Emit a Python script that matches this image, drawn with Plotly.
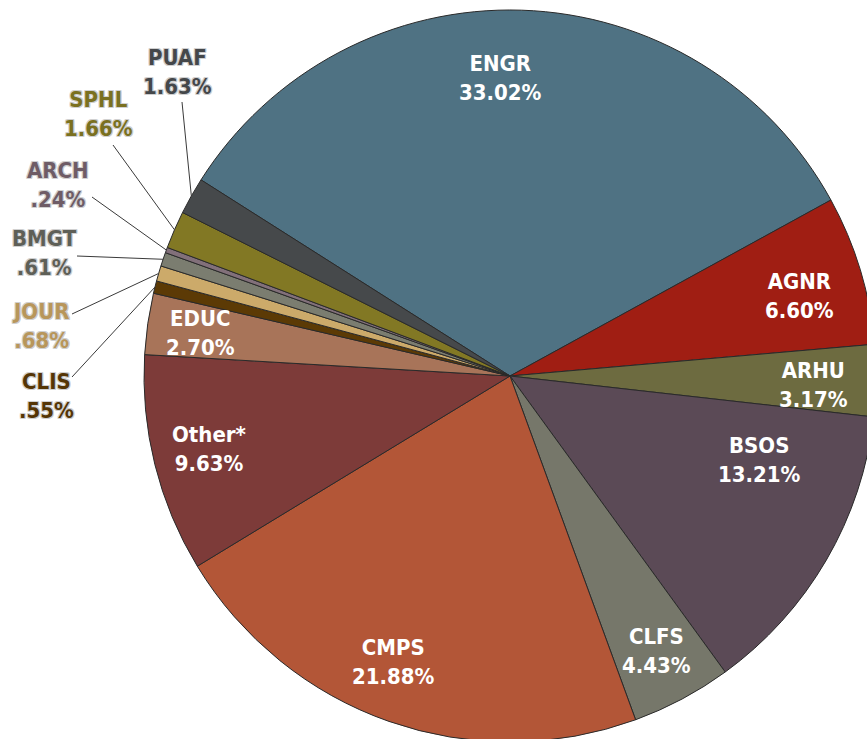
import math
import plotly.graph_objects as go

# ---- data ----
categories = ["ENGR", "AGNR", "ARHU", "BSOS", "CLFS", "CMPS", "Other*", "EDUC",
              "CLIS", "JOUR", "BMGT", "ARCH", "SPHL", "PUAF"]
shares = [33.02, 6.60, 3.17, 13.21, 4.43, 21.88, 9.63, 2.70,
          0.55, 0.68, 0.61, 0.24, 1.66, 1.63]
value_labels = ["33.02%", "6.60%", "3.17%", "13.21%", "4.43%", "21.88%", "9.63%", "2.70%",
                ".55%", ".68%", ".61%", ".24%", "1.66%", "1.63%"]

# ---- style ----
colors = ["#4F7283", "#A01E13", "#6D6B40", "#5B4A56", "#76776A", "#B35637", "#7D3B39", "#A87459",
          "#5C3A05", "#CCAA6A", "#7B7D70", "#82707A", "#827824", "#46494B"]
outside_text_colors = {"CLIS": "#553505", "JOUR": "#B8965A", "BMGT": "#5E5F57",
                       "ARCH": "#6E5C66", "SPHL": "#7A7020", "PUAF": "#44474A"}

W, H = 880, 745
CX, CY, R = 510, 376, 366
ROTATION = -57.6
FONT = "DejaVu Sans Condensed, DejaVu Sans, Arial"
FS = 22

# inside label placement: (radius fraction, angle offset in degrees)
inside_place = {"ENGR": (0.815, -3.7), "AGNR": (0.82, 1.4), "ARHU": (0.83, 1.0),
                "BSOS": (0.72, -11.6), "CLFS": (0.85, 0.0), "CMPS": (0.845, 2.9),
                "Other*": (0.845, 0.4), "EDUC": (0.855, -0.3)}
# outside label block centers (px) and leader-line start points (px)
outside_place = {"PUAF": ((177, 72), (182, 102)), "SPHL": ((98, 114), (113, 145)),
                 "ARCH": ((58, 185), (92, 197)), "BMGT": ((44, 253), (77, 256)),
                 "JOUR": ((41, 326), (72, 314)), "CLIS": ((46, 396), (72, 377))}

dom_x = [(CX - R) / W, (CX + R) / W]
dom_y = [(H - CY - R) / H, (H - CY + R) / H]

fig = go.Figure(go.Pie(
    labels=categories, values=shares, sort=False, direction="clockwise",
    rotation=ROTATION, textinfo="none", hoverinfo="label+percent",
    marker=dict(colors=colors, line=dict(color="#2a2a2a", width=1)),
    domain=dict(x=dom_x, y=dom_y), showlegend=False,
))

def px2paper(x, y):
    return x / W, 1 - y / H

total = sum(shares)
annotations, shapes = [], []
cum = 0.0
outline = "#d0d0d0"
shadow = ", ".join(f"{a}px {b}px 0 {outline}" for a in (-1, 0, 1) for b in (-1, 0, 1) if a or b)
for cat, v, lab in zip(categories, shares, value_labels):
    a0 = ROTATION + cum / total * 360
    cum += v
    a1 = ROTATION + cum / total * 360
    mid = (a0 + a1) / 2
    if cat in inside_place:
        f, off = inside_place[cat]
        ang = math.radians(mid + off)
        x = CX + f * R * math.sin(ang)
        y = CY - f * R * math.cos(ang)
        px, py = px2paper(x, y)
        annotations.append(dict(x=px, y=py, xref="paper", yref="paper", showarrow=False,
                                xanchor="center", yanchor="middle",
                                text=f"{cat}<br>{lab}", align="center",
                                font=dict(family=FONT, size=FS, color="white", weight="bold")))
    else:
        (lx, ly), (sx, sy) = outside_place[cat]
        px, py = px2paper(lx, ly)
        annotations.append(dict(x=px, y=py, xref="paper", yref="paper", showarrow=False,
                                xanchor="center", yanchor="middle",
                                text=f"{cat}<br>{lab}", align="center",
                                font=dict(family=FONT, size=FS, color=outside_text_colors[cat],
                                          weight="bold", shadow=shadow)))
        ang = math.radians(mid)
        ex = CX + R * math.sin(ang)
        ey = CY - R * math.cos(ang)
        x0, y0 = px2paper(sx, sy)
        x1, y1 = px2paper(ex, ey)
        shapes.append(dict(type="line", xref="paper", yref="paper", x0=x0, y0=y0, x1=x1, y1=y1,
                           line=dict(color="#3a3a3a", width=1)))

fig.update_layout(
    width=W, height=H, margin=dict(l=0, r=0, t=0, b=0),
    paper_bgcolor="white", plot_bgcolor="white",
    annotations=annotations, shapes=shapes,
)

fig.write_html("out.html", config={"displayModeBar": False},
               post_script="document.body.style.margin='0';document.body.style.overflow='hidden';document.documentElement.style.overflow='hidden';")
